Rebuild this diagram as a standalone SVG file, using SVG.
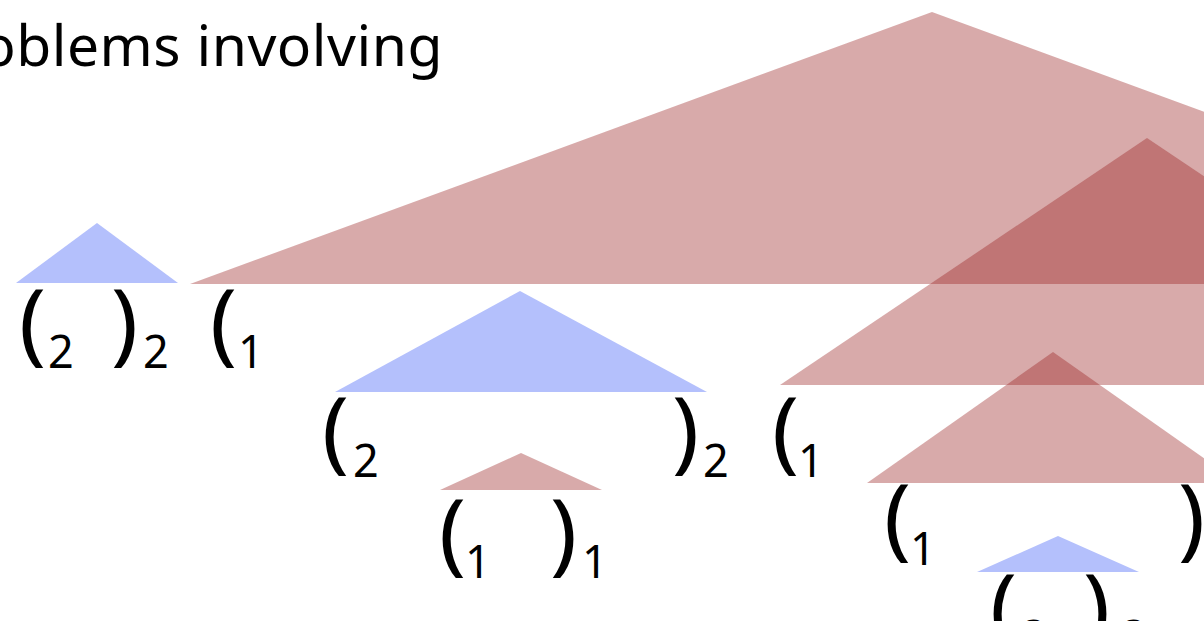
<svg xmlns="http://www.w3.org/2000/svg" width="1204" height="621" viewBox="0 0 1204 621">
<style>
.red{fill:rgb(151,28,28);fill-opacity:0.375}
.blue{fill:#b4c0fc}
.p{font-family:"Noto Sans","DejaVu Sans",sans-serif;font-size:90px;fill:#000}
.s{font-family:"Noto Sans","DejaVu Sans",sans-serif;font-size:45px;fill:#000}
.title{font-family:"Noto Sans","Open Sans",sans-serif;font-size:57px;letter-spacing:0.5px;fill:#000}
</style>
<rect width="1204" height="621" fill="#fff"/>
<text class="title" x="443" y="66" text-anchor="end">oblems involving</text>
<g id="pairA">
<polygon class="blue" points="16,283 97,223 178,283"/>
<text class="p" x="19" y="354">(</text><text class="s" x="48" y="368">2</text>
<text class="p" x="111" y="354">)</text><text class="s" x="143" y="368">2</text>
</g>
<g id="pairB">
<polygon class="red" points="190,284 932,12 1674,284"/>
<text class="p" x="210" y="354">(</text><text class="s" x="238" y="368">1</text>
</g>
<g id="pairC">
<polygon class="blue" points="335,392 520,291 707,392"/>
<text class="p" x="322" y="462">(</text><text class="s" x="353" y="477">2</text>
<text class="p" x="672" y="462">)</text><text class="s" x="703" y="477">2</text>
</g>
<g id="pairD">
<polygon class="red" points="440,490 521,453 602,490"/>
<text class="p" x="439" y="564">(</text><text class="s" x="465" y="578">1</text>
<text class="p" x="550" y="564">)</text><text class="s" x="582" y="578">1</text>
</g>
<g id="pairE">
<polygon class="red" points="780,385 1147,138 1514,385"/>
<text class="p" x="772" y="462">(</text><text class="s" x="798" y="477">1</text>
</g>
<g id="pairF">
<polygon class="red" points="867,483 1053,352 1239,483"/>
<text class="p" x="884" y="549">(</text><text class="s" x="910" y="565">1</text>
<text class="p" x="1178" y="549">)</text>
</g>
<g id="pairG">
<polygon class="blue" points="977,572 1058,536 1139,572"/>
<text class="p" x="990" y="639">(</text><text class="s" x="1021" y="653">2</text>
<text class="p" x="1083" y="639">)</text><text class="s" x="1121" y="653">2</text>
</g>
<g id="connectors"/>
</svg>
